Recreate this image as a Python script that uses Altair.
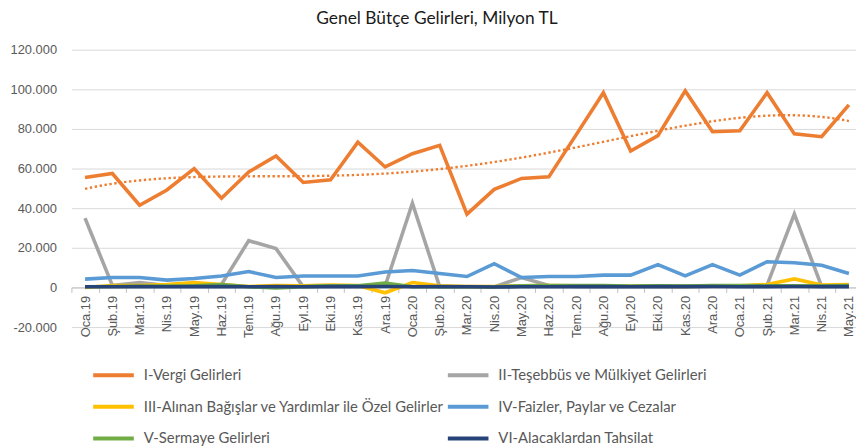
import json
import altair as alt
import pandas as pd

months = ["Oca.19", "Şub.19", "Mar.19", "Nis.19", "May.19", "Haz.19", "Tem.19", "Ağu.19",
          "Eyl.19", "Eki.19", "Kas.19", "Ara.19", "Oca.20", "Şub.20", "Mar.20", "Nis.20",
          "May.20", "Haz.20", "Tem.20", "Ağu.20", "Eyl.20", "Eki.20", "Kas.20", "Ara.20",
          "Oca.21", "Şub.21", "Mar.21", "Nis.21", "May.21"]

series_names = [
    "I-Vergi Gelirleri",
    "II-Teşebbüs ve Mülkiyet Gelirleri",
    "III-Alınan Bağışlar ve Yardımlar ile Özel Gelirler",
    "IV-Faizler, Paylar ve Cezalar",
    "V-Sermaye Gelirleri",
    "VI-Alacaklardan Tahsilat",
]

vergi = [55500, 57500, 41500, 49200, 60000, 45000, 58300, 66300, 53000, 54300, 73300, 60800,
         67500, 71700, 37000, 49500, 55000, 55800, 77000, 98300, 68800, 76600, 99200, 78600,
         79100, 98300, 77500, 76100, 92100]
tesebbus = [35000, 1000, 2500, 1000, 1000, 1500, 23600, 19600, 300, 800, 800, 700,
            42500, 300, 500, 300, 5000, 1000, 500, 300, 500, 500, 400, 500,
            700, 1200, 37000, 500, 800]
bagis = [0, 1000, 1000, 1500, 2500, 1500, 500, 1000, 800, 1200, 1000, -2700,
         2500, 800, 500, 500, 800, 1000, 800, 600, 600, 600, 500, 700,
         800, 1500, 4300, 1200, 1500]
faiz = [4200, 5000, 5000, 3700, 4500, 5800, 8000, 5000, 5800, 5800, 5800, 7800,
        8500, 7000, 5500, 12000, 5000, 5500, 5500, 6200, 6200, 11500, 5800, 11500,
        6200, 13000, 12500, 11200, 7000]
sermaye = [300, 500, 600, 700, 800, 1500, 300, -300, 400, 800, 800, 2200,
           300, 300, 300, 300, 800, 1000, 1000, 900, 700, 800, 700, 900,
           900, 800, 800, 700, 900]
alacak = [300, 350, 400, 350, 400, 400, 350, 400, 350, 400, 400, 450,
          350, 400, 300, 250, 300, 350, 400, 400, 350, 400, 400, 450,
          350, 400, 450, 400, 400]

colors = ["#ED7D31", "#A5A5A5", "#FFC000", "#5B9BD5", "#70AD47", "#264478"]

all_series = [vergi, tesebbus, bagis, faiz, sermaye, alacak]
rows = []
for name, vals in zip(series_names, all_series):
    for i, v in enumerate(vals):
        rows.append({"i": i, "month": months[i], "series": name, "value": v})
df = pd.DataFrame(rows)

label_expr = "replace(replace(format(datum.value, ','), ',', '.'), '\u2212', '-')"
x_label_expr = json.dumps(months, ensure_ascii=False) + "[round(datum.value + 0.5)]"

x_enc = alt.X(
    "i:Q",
    scale=alt.Scale(domain=[-0.5, 28.26], nice=False, zero=False),
    axis=alt.Axis(
        values=[k - 0.5 for k in range(len(months))],
        labelExpr=x_label_expr,
        labelAngle=-90,
        labelOffset=13.77,
        labelFlush=False,
        labelOverlap=False,
        labelBound=False,
        labelFont="Liberation Sans",
        labelFontSize=13,
        labelColor="#595959",
        labelPadding=3,
        tickSize=5,
        tickColor="#BFBFBF",
        domainColor="#BFBFBF",
        grid=False,
        offset=-40,
        title=None,
    ),
)
y_enc = alt.Y(
    "value:Q",
    scale=alt.Scale(domain=[-20000, 120000], nice=False),
    axis=alt.Axis(
        values=list(range(-20000, 120001, 20000)),
        labelExpr=label_expr,
        labelFont="Liberation Sans",
        labelFontSize=13,
        labelColor="#595959",
        labelPadding=15,
        ticks=False,
        domain=False,
        gridColor="#D9D9D9",
        gridWidth=1,
        title=None,
    ),
)

color_enc = alt.Color(
    "series:N",
    scale=alt.Scale(domain=series_names, range=colors),
    legend=alt.Legend(
        orient="none",
        legendX=20,
        legendY=306,
        columns=2,
        direction="horizontal",
        title=None,
        symbolType="stroke",
        symbolSize=1681,
        symbolStrokeWidth=4,
        labelFont="Lato",
        labelFontSize=15,
        labelColor="#595959",
        labelOffset=8,
        labelLimit=400,
        columnPadding=-5,
        rowPadding=1,
        padding=0,
    ),
)

base = alt.Chart(df)

layers = []
trend = base.transform_filter(
    alt.datum.series == series_names[0]
).transform_regression(
    "i", "value", method="poly", order=4, extent=[0, 28]
).mark_line(
    color="#ED7D31", strokeWidth=2.4, strokeDash=[2.4, 2.6]
).encode(x=x_enc, y=y_enc)

for name in series_names:
    layers.append(
        base.transform_filter(alt.datum.series == name)
        .mark_line(strokeWidth=3.6)
        .encode(x=x_enc, y=y_enc, color=color_enc)
    )

chart = alt.layer(layers[0], trend, *layers[1:]).properties(
    width=792,
    height=280,
    autosize=alt.AutoSizeParams(type="none"),
    padding={"left": 64, "top": 40, "right": 0, "bottom": 119},
    title=alt.TitleParams(
        "Genel Bütçe Gelirleri, Milyon TL",
        font="Lato",
        fontSize=17.5,
        fontWeight="normal",
        color="#1a1a1a",
        anchor="middle",
        dx=-27,
        offset=16,
    ),
).configure_view(stroke=None)

chart.save("out.html", embed_options={"renderer": "svg", "actions": False})
